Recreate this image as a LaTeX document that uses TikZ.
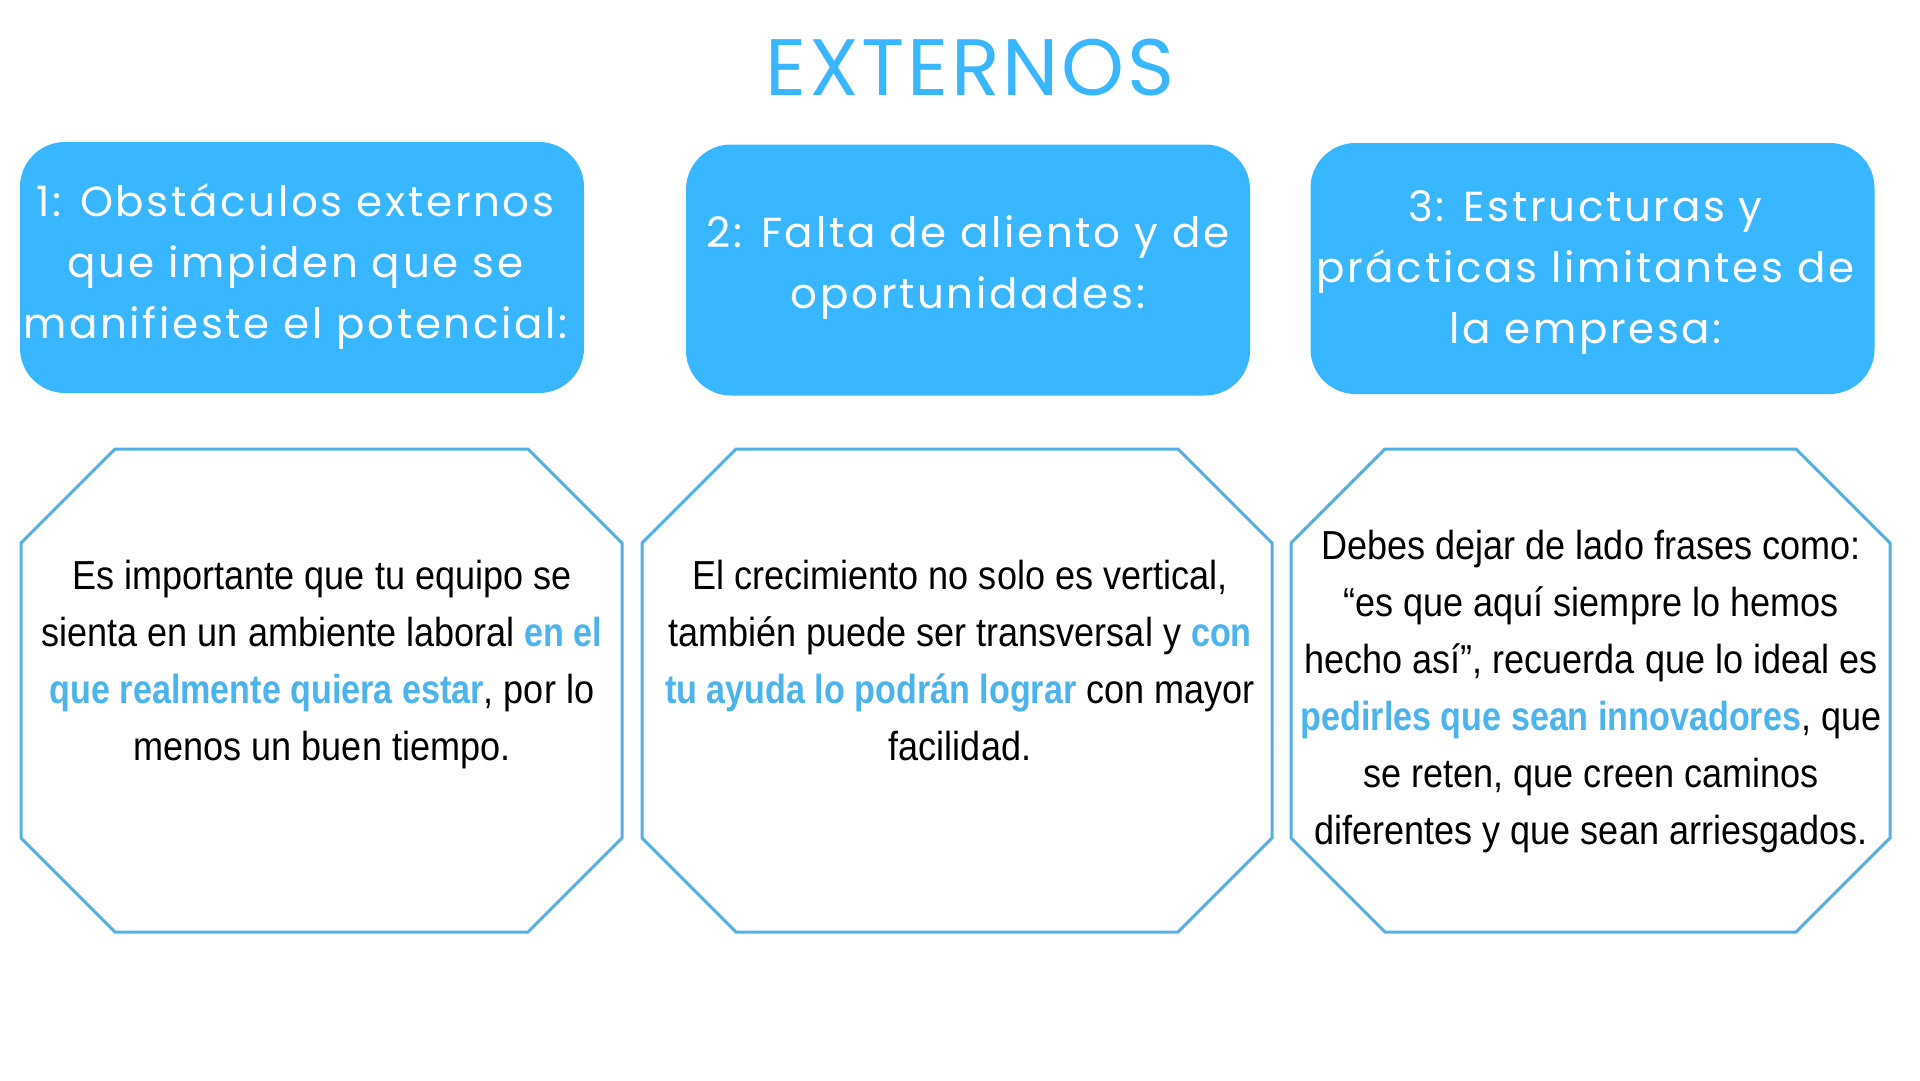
\documentclass[tikz,border=0pt]{standalone}
\usepackage{fontspec}
\setmainfont{Liberation Sans}
\newfontfamily\headfont[LetterSpace=6.4]{Poppins}
\newfontfamily\titlefont[LetterSpace=3.4]{Poppins}
\newfontfamily\bodyfont[FakeStretch=0.89,BoldFeatures={FakeStretch=0.842}]{Liberation Sans}
\definecolor{boxblue}{RGB}{56,182,255}
\definecolor{octblue}{RGB}{82,176,228}
\definecolor{hlblue}{RGB}{76,180,236}
\newcommand{\bluebold}[1]{\textcolor{hlblue}{\bfseries #1}}
\tikzset{
  hbox/.style={fill=boxblue, rounded corners=45pt, minimum width=564pt, minimum height=251pt, inner sep=0pt},
  headtext/.style={text=white, align=center, inner sep=0pt, font=\headfont\fontsize{42}{61}\selectfont},
  titletext/.style={text=boxblue, inner sep=0pt, font=\titlefont\fontsize{80}{90}\selectfont},
  octline/.style={draw=octblue, line width=3pt, line join=miter},
  bodytext/.style={align=center, inner sep=0pt, text=black, font=\bodyfont\fontsize{40.5}{57}\selectfont},
}
\newcommand{\octa}[5]{%
  \draw[octline] ({#1+#5},#3) -- ({#2-#5},#3) -- (#2,{#3+#5}) -- (#2,{#4-#5}) -- ({#2-#5},#4) -- ({#1+#5},#4) -- (#1,{#4-#5}) -- (#1,{#3+#5}) -- cycle;}
\begin{document}
\begin{tikzpicture}[x=1pt,y=-1pt]
  \useasboundingbox (0,0) rectangle (1920,1080);
  \fill[white] (0,0) rectangle (1920,1080);
  % title
  \node[titletext, anchor=base] (title) at (970,95) {EXTERNOS};
  % header boxes
  \node[hbox] (b1) at (302,267.5) {};
  \node[hbox] (b2) at (968,270) {};
  \node[hbox] (b3) at (1592.5,268.5) {};
  \node[headtext] (h1) at (295.5,266.5) {1: Obstáculos externos\\que impiden que se\\manifieste el potencial:};
  \node[headtext] (h2) at (968,267.5) {2: Falta de aliento y de\\oportunidades:};
  \node[headtext] (h3) at (1585.5,272) {3: Estructuras y\\prácticas limitantes de\\la empresa:};
  % octagons
  \octa{21}{622}{449}{932}{94}
  \octa{642}{1272}{449}{932}{94}
  \octa{1291}{1890}{449}{932}{94}
  % body texts
  \node[bodytext] (t1) at (322,665) {Es importante que tu equipo se\\sienta en un ambiente laboral \bluebold{en el}\\\bluebold{que realmente quiera estar}, por lo\\menos un buen tiempo.};
  \node[bodytext] (t2) at (960,661) {El crecimiento no solo es vertical,\\también puede ser transversal y \bluebold{con}\\\bluebold{tu ayuda lo podrán lograr} con mayor\\facilidad.};
  \node[bodytext] (t3) at (1591,692) {Debes dejar de lado frases como:\\“es que aquí siempre lo hemos\\hecho así”, recuerda que lo ideal es\\\bluebold{pedirles que sean innovadores}, que\\se reten, que creen caminos\\diferentes y que sean arriesgados.};
\end{tikzpicture}
\end{document}
